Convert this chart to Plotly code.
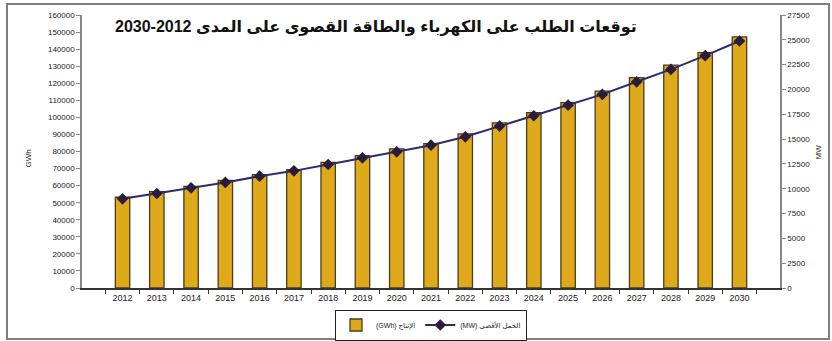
import plotly.graph_objects as go

# Forecast years
years = [str(y) for y in range(2012, 2031)]

# Electricity production (GWh) - bars, left axis
production_gwh = [53200, 56500, 59500, 63000, 66400, 69300, 73600, 77600, 81500, 84600,
                  90300, 96800, 102700, 108600, 115400, 123300, 130600, 138000, 147200]

# Peak load (MW) - line, right axis
peak_load_mw = [8980, 9520, 10090, 10630, 11260, 11800, 12440, 13110, 13720, 14390,
                15230, 16310, 17350, 18420, 19500, 20770, 22020, 23400, 24880]

left_ticks = list(range(0, 160001, 10000))
right_ticks = list(range(0, 27501, 2500))

title_text = "توقعات الطلب على الكهرباء والطاقة القصوى على المدى 2012\u200f-\u200f2030"
bar_name = "\u202bالإنتاج (GWh)\u202c"
line_name = "\u202bالحمل الأقصى (MW)\u202c"

W, H = 832, 341
ML, MR, MT, MB = 82, 52, 15, 53
PW, PH = W - ML - MR, H - MT - MB


def px_x(px):
    return (px - ML) / PW


def px_y(py):
    return (H - MB - py) / PH


font_family = "Arial, Liberation Sans, DejaVu Sans, sans-serif"

fig = go.Figure()
fig.add_trace(go.Bar(
    x=years, y=production_gwh, name=bar_name,
    marker=dict(color="#DFA91C", line=dict(color="#4a3d18", width=1.3)),
    yaxis="y",
))
fig.add_trace(go.Scatter(
    x=years, y=peak_load_mw, name=line_name, mode="lines+markers",
    line=dict(color="#2f2a6c", width=2),
    marker=dict(symbol="diamond", size=9, color="#2a1c3c"),
    yaxis="y2",
))

fig.update_layout(
    width=W, height=H,
    margin=dict(l=ML, r=MR, t=MT, b=MB, autoexpand=False),
    paper_bgcolor="white", plot_bgcolor="white",
    font=dict(family=font_family, size=9, color="#222222"),
    bargap=0.58,
    showlegend=True,
    legend=dict(
        orientation="h", x=0.5, xanchor="center",
        yref="container", y=1 - 325 / H, yanchor="middle",
        bordercolor="#222222", borderwidth=1, bgcolor="white",
        font=dict(size=7, family=font_family), traceorder="normal",
        itemwidth=30, tracegroupgap=0,
    ),
    xaxis=dict(
        type="category", showgrid=False, showline=True, linecolor="#333333", linewidth=1.5,
        ticks="outside", ticklen=4, tickcolor="#333333", tickson="boundaries",
        tickfont=dict(size=9), mirror=False,
    ),
    yaxis=dict(
        range=[0, 160000], tickvals=left_ticks, ticktext=[str(v) for v in left_ticks],
        showgrid=False, zeroline=False, showline=True, linecolor="#888888", linewidth=1.5,
        ticks="outside", ticklen=4, tickcolor="#888888", tickfont=dict(size=8),
    ),
    yaxis2=dict(
        range=[0, 27500], tickvals=right_ticks, ticktext=[str(v) for v in right_ticks],
        overlaying="y", side="right",
        showgrid=False, zeroline=False, showline=True, linecolor="#888888", linewidth=1.5,
        ticks="outside", ticklen=4, tickcolor="#888888", tickfont=dict(size=8),
    ),
    annotations=[
        dict(text="<b>" + title_text + "</b>", xref="paper", yref="paper",
             x=px_x(376), y=px_y(27), xanchor="center", yanchor="middle",
             showarrow=False, font=dict(size=16, color="#111111", family=font_family)),
        dict(text="GWh", xref="paper", yref="paper", x=px_x(21), y=px_y(158),
             textangle=-90, showarrow=False, font=dict(size=8)),
        dict(text="MW", xref="paper", yref="paper", x=px_x(824), y=px_y(152),
             textangle=-90, showarrow=False, font=dict(size=8)),
    ],
    shapes=[
        dict(type="rect", xref="paper", yref="paper",
             x0=px_x(7), x1=px_x(829), y0=px_y(339), y1=px_y(4),
             line=dict(color="#7f7f7f", width=2), fillcolor="rgba(0,0,0,0)", layer="below"),
    ],
)

fig.write_html("out.html")
